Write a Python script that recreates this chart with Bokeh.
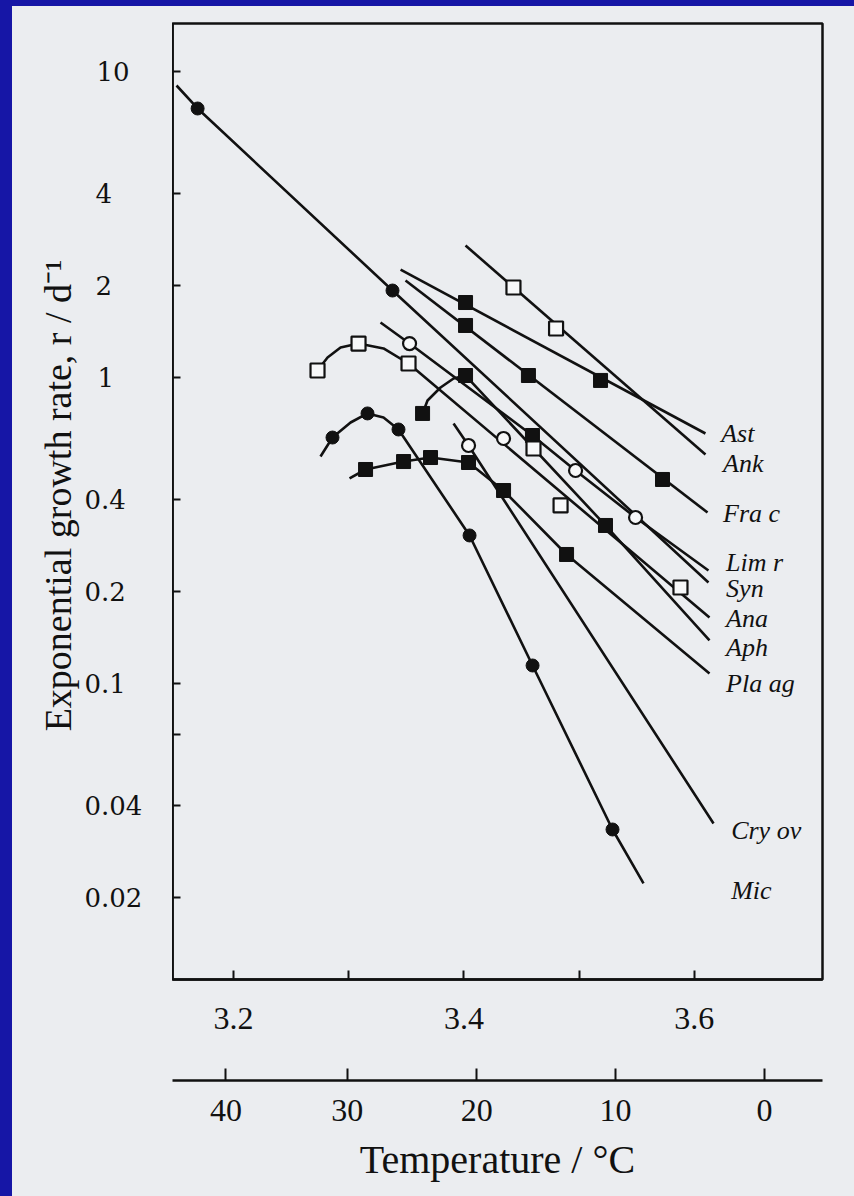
import math
from bokeh.plotting import figure
from bokeh.models import FixedTicker, CustomJSTickFormatter, Range1d
from bokeh.layouts import column, row
from bokeh.embed import file_html
from bokeh.resources import INLINE
from bokeh.core.properties import value

try:
    from bokeh.models import GlobalInlineStyleSheet
except Exception:
    GlobalInlineStyleSheet = None

# ---------------- data (x = 1000/T in K^-1, y = r in d^-1) ----------------
# fitted lines / curves, one per species
ast_x = [3.345, 3.6097]
ast_y = [2.25, 0.656]
ank_x = [3.4014, 3.6097]
ank_y = [2.70, 0.560]
frac_x = [3.3493, 3.6115]
frac_y = [2.075, 0.362]
limr_x = [3.3276, 3.3528, 3.4595, 3.4969, 3.5490, 3.6123]
limr_y = [1.512, 1.291, 0.6463, 0.4967, 0.3487, 0.2341]
syn_x = [3.1505, 3.1688, 3.338, 3.6123]
syn_y = [9.00, 7.57, 1.924, 0.2138]
ana_x = [3.2729, 3.2816, 3.2929, 3.3085, 3.3302, 3.3519, 3.6132]
ana_y = [1.054, 1.1625, 1.253, 1.291, 1.244, 1.111, 0.1643]
aph_x = [3.3641, 3.3684, 3.3797, 3.391, 3.4014, 3.5229, 3.6132]
aph_y = [0.763, 0.841, 0.9276, 0.9925, 1.015, 0.3284, 0.1382]
plaag_x = [3.3007, 3.3146, 3.3476, 3.371, 3.404, 3.4344, 3.4891, 3.6132]
plaag_y = [0.4677, 0.5004, 0.5313, 0.5476, 0.5274, 0.4272, 0.264, 0.1078]
cryov_x = [3.391, 3.404, 3.6167]
cryov_y = [0.7075, 0.5995, 0.03487]
mic_x = [3.2755, 3.2859, 3.3016, 3.3163, 3.3302, 3.3432, 3.4049, 3.4596, 3.529, 3.5559]
mic_y = [0.552, 0.6365, 0.7127, 0.763, 0.740, 0.6762, 0.3046, 0.1145, 0.03333, 0.02221]

# observed points, by symbol
filled_circle_x = [3.1688, 3.338, 3.2859, 3.3163, 3.3432, 3.4049, 3.4596, 3.529]
filled_circle_y = [7.57, 1.924, 0.6365, 0.763, 0.6762, 0.3046, 0.1145, 0.03333]
open_circle_x = [3.3528, 3.4969, 3.549, 3.4344, 3.404]
open_circle_y = [1.291, 0.4967, 0.3487, 0.6319, 0.5995]
filled_square_x = [3.4014, 3.5186, 3.4014, 3.456, 3.5724, 3.3641, 3.4014, 3.5229,
                   3.4595, 3.3146, 3.3476, 3.371, 3.404, 3.4344, 3.4891]
filled_square_y = [1.758, 0.978, 1.479, 1.015, 0.4642, 0.763, 1.015, 0.3284,
                   0.6463, 0.5004, 0.5313, 0.5476, 0.5274, 0.4272, 0.264]
open_square_x = [3.443, 3.480, 3.2729, 3.3085, 3.3519, 3.588, 3.4839, 3.4604]
open_square_y = [1.968, 1.446, 1.054, 1.291, 1.111, 0.2059, 0.382, 0.5861]

species_labels = ["Ast", "Ank", "Fra c", "Lim r", "Syn", "Ana", "Aph", "Pla ag", "Cry ov", "Mic"]
label_x = [3.6233, 3.625, 3.625, 3.6276, 3.6276, 3.6276, 3.6276, 3.6276, 3.632, 3.632]
label_y = [0.656, 0.524, 0.36, 0.2485, 0.2044, 0.163, 0.131, 0.100, 0.0331, 0.0211]

y_ticks = [10, 4, 2, 1, 0.4, 0.2, 0.1, 0.068, 0.04, 0.02]
y_label_values = [10, 4, 2, 1, 0.4, 0.2, 0.1, 0.04, 0.02]
y_tick_labels = ["10", "4", "2", "1", "0.4", "0.2", "0.1", "0.04", "0.02"]
y_label_left = [96, 95, 95, 97, 84, 84, 84, 84, 84]   # px from page edge
x_ticks = [3.2, 3.3, 3.4, 3.5, 3.6]
x_tick_labels = {3.3: "", 3.5: ""}
temps_c = [40, 30, 20, 10, 0]

# ---------------- styling ----------------
PAGE = "#ebedf0"
BLUE = "#1616a6"
INK = "#111111"
OPEN = "#f7f8f9"
SERIF = "Liberation Serif"

LEFT = 172
W_MAIN = 854 - LEFT
H_MAIN = 1050
H_TEMP = 146
TOP = 23
BOTTOM = 71
YR = Range1d(0.01078, 14.35)

p = figure(width=W_MAIN, height=H_MAIN, x_range=Range1d(3.147, 3.7113),
           y_range=YR, y_axis_type="log",
           output_backend="svg", toolbar_location=None,
           min_border_left=0, min_border_right=32, min_border_top=TOP,
           min_border_bottom=BOTTOM)
p.background_fill_color = PAGE
p.border_fill_color = None
p.outline_line_color = INK
p.outline_line_width = 2.5
p.grid.visible = False

p.xaxis.ticker = FixedTicker(ticks=x_ticks)
p.xaxis.major_label_overrides = x_tick_labels
p.xaxis.major_tick_in = 9
p.xaxis.major_tick_out = 0
p.xaxis.minor_tick_line_color = None
p.xaxis.major_tick_line_width = 2
p.xaxis.major_tick_line_color = INK
p.xaxis.axis_line_color = INK
p.xaxis.axis_line_width = 2.5
p.xaxis.major_label_standoff = 28
p.xaxis.major_label_text_font = SERIF
p.xaxis.major_label_text_font_size = "32px"
p.xaxis.major_label_text_color = INK

p.yaxis.ticker = FixedTicker(ticks=y_ticks)
p.yaxis.formatter = CustomJSTickFormatter(code="return '';")
p.yaxis.major_label_standoff = 0
p.yaxis.major_tick_in = 8
p.yaxis.major_tick_out = 0
p.yaxis.minor_tick_line_color = None
p.yaxis.major_tick_line_width = 2
p.yaxis.major_tick_line_color = INK
p.yaxis.axis_line_color = INK
p.yaxis.axis_line_width = 2.5

LW = 2.6
for lx, ly in [(ast_x, ast_y), (ank_x, ank_y), (frac_x, frac_y), (limr_x, limr_y),
               (syn_x, syn_y), (ana_x, ana_y), (aph_x, aph_y), (plaag_x, plaag_y),
               (cryov_x, cryov_y), (mic_x, mic_y)]:
    p.line(lx, ly, line_color=INK, line_width=LW, line_join="round")

p.scatter(filled_circle_x, filled_circle_y, marker="circle", size=13,
          fill_color=INK, line_color=INK, line_width=1)
p.scatter(open_circle_x, open_circle_y, marker="circle", size=13,
          fill_color=OPEN, line_color=INK, line_width=2.2)
p.scatter(filled_square_x, filled_square_y, marker="square", size=14,
          fill_color=INK, line_color=INK, line_width=1)
p.scatter(open_square_x, open_square_y, marker="square", size=14,
          fill_color=OPEN, line_color=INK, line_width=2.2)

p.text(x=label_x, y=label_y, text=species_labels, text_font=value(SERIF),
       text_font_style="italic", text_font_size="26px", text_color=INK,
       text_baseline="middle", text_align="left")

# ---------------- left strip: y tick labels and title ----------------
lf = figure(width=LEFT, height=H_MAIN, x_range=Range1d(0, LEFT), y_range=YR,
            y_axis_type="log", output_backend="svg", toolbar_location=None,
            min_border_left=0, min_border_right=0, min_border_top=TOP,
            min_border_bottom=BOTTOM, x_axis_location=None, y_axis_location=None)
lf.background_fill_color = None
lf.border_fill_color = None
lf.outline_line_color = None
lf.grid.visible = False
lf.text(x=y_label_left, y=y_label_values, text=y_tick_labels,
        text_font=value("DejaVu Serif"), text_font_size="26px", text_color=INK,
        text_align="left", text_baseline="middle")
lf.text(x=[57], y=[0.4116], text=["Exponential growth rate, r / d\u207b\u00b9"],
        angle=math.pi / 2, text_font=value(SERIF), text_font_size="38px",
        text_color=INK, text_align="center", text_baseline="middle")

# ---------------- temperature scale ----------------
t = figure(width=854, height=H_TEMP, x_range=p.x_range, y_range=Range1d(0, 1),
           output_backend="svg", toolbar_location=None,
           min_border_left=LEFT, min_border_right=32, min_border_top=0,
           min_border_bottom=116, y_axis_location=None)
t.background_fill_color = PAGE
t.border_fill_color = None
t.outline_line_color = None
t.grid.visible = False
t.xaxis.ticker = FixedTicker(ticks=[1000.0 / (c + 273.15) for c in temps_c])
t.xaxis.formatter = CustomJSTickFormatter(code="""
    var v = Math.round(1000.0 / tick - 273.15);
    if (Math.abs(v) < 0.5) { v = 0; }
    return String(v);
""")
t.xaxis.major_tick_in = 12
t.xaxis.major_tick_out = 0
t.xaxis.minor_tick_line_color = None
t.xaxis.major_tick_line_width = 2
t.xaxis.major_tick_line_color = INK
t.xaxis.axis_line_color = INK
t.xaxis.axis_line_width = 2.5
t.xaxis.major_label_standoff = 19
t.xaxis.major_label_text_font = SERIF
t.xaxis.major_label_text_font_size = "32px"
t.xaxis.major_label_text_color = INK
t.xaxis.axis_label = "Temperature / \u00b0C"
t.xaxis.axis_label_text_font = SERIF
t.xaxis.axis_label_text_font_style = "normal"
t.xaxis.axis_label_text_font_size = "40px"
t.xaxis.axis_label_text_color = INK
t.xaxis.axis_label_standoff = 13

layout = column(row(lf, p), t)
if GlobalInlineStyleSheet is not None:
    layout.stylesheets = [GlobalInlineStyleSheet(css=(
        "html { height: 100%%; background-color: %s;"
        " background-image: linear-gradient(%s, %s), linear-gradient(%s, %s);"
        " background-size: 12px 100%%, 100%% 6px; background-repeat: no-repeat;"
        " background-position: 0 0, 0 0; background-attachment: fixed; }"
        " body { background: transparent; }" % (PAGE, BLUE, BLUE, BLUE, BLUE)))]

open("out.html", "w").write(file_html(layout, INLINE))
